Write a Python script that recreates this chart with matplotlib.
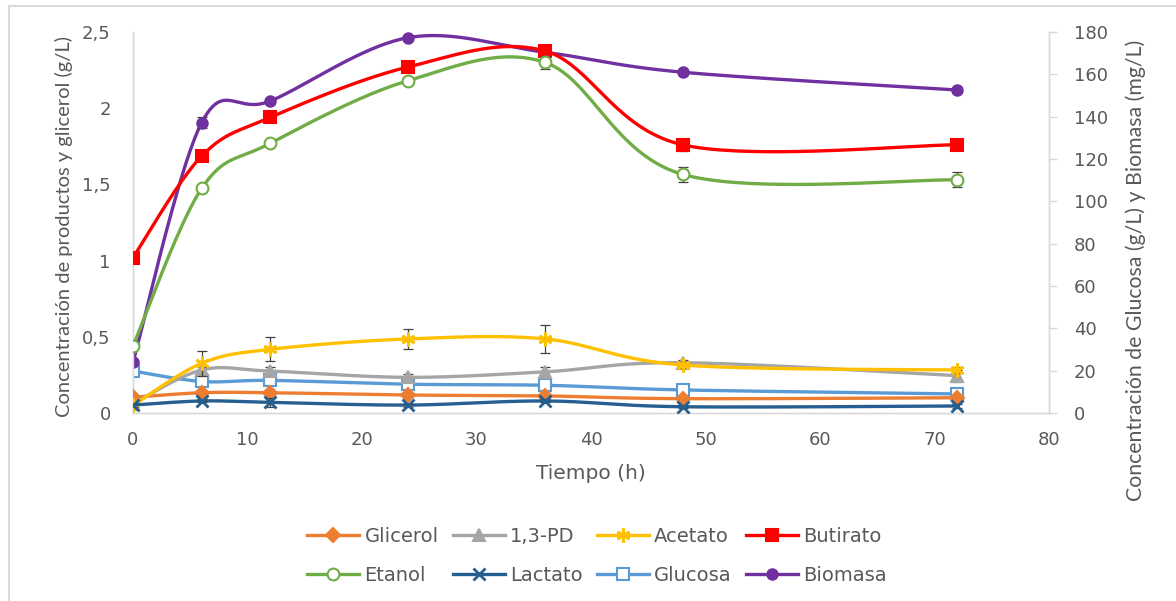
import numpy as np
import matplotlib
matplotlib.use("Agg")
import matplotlib.pyplot as plt
from matplotlib.lines import Line2D
from matplotlib.patches import Rectangle

plt.rcParams['font.family'] = ['DejaVu Sans']

# ---------------- data ----------------
tiempo = [0, 6, 12, 24, 36, 48, 72]

glicerol = [0.103, 0.133, 0.133, 0.118, 0.112, 0.094, 0.100]
glicerol_err = [0.01, 0.01, 0.01, 0.01, 0.01, 0.01, 0.01]

pd13 = [0.06, 0.282, 0.275, 0.234, 0.270, 0.330, 0.245]
pd13_err = [0.01, 0.02, 0.03, 0.02, 0.03, 0.02, 0.04]

acetato = [0.05, 0.326, 0.418, 0.486, 0.486, 0.315, 0.282]
acetato_err = [0.01, 0.08, 0.08, 0.065, 0.09, 0.02, 0.02]

butirato = [1.02, 1.686, 1.94, 2.27, 2.375, 1.76, 1.76]
butirato_err = [0.01, 0.02, 0.02, 0.02, 0.02, 0.04, 0.03]

etanol = [0.44, 1.474, 1.77, 2.18, 2.30, 1.566, 1.53]
etanol_err = [0.01, 0.02, 0.02, 0.02, 0.04, 0.05, 0.05]

lactato = [0.052, 0.079, 0.07, 0.052, 0.079, 0.041, 0.046]
lactato_err = [0.01, 0.01, 0.03, 0.01, 0.01, 0.01, 0.01]

# right axis (Glucosa g/L, Biomasa mg/L)
glucosa = [19.8, 14.9, 15.4, 13.6, 13.1, 10.9, 9.0]
glucosa_err = [0.8, 0.8, 0.8, 0.8, 0.8, 0.5, 0.5]

biomasa = [24.0, 137.2, 147.4, 177.3, 170.4, 161.0, 152.6]
biomasa_err = [1.0, 2.5, 1.5, 1.5, 1.5, 1.5, 1.5]

x_ticks = [0, 10, 20, 30, 40, 50, 60, 70, 80]
y_left_ticks = [0, 0.5, 1, 1.5, 2, 2.5]
y_left_labels = ['0', '0,5', '1', '1,5', '2', '2,5']
y_right_ticks = [0, 20, 40, 60, 80, 100, 120, 140, 160, 180]

TEXT = '#595959'
AXIS = '#D9D9D9'
ERR = '#404040'


def smooth(xs, ys, n=40):
    """Excel-like smoothed line (Catmull-Rom Bezier segments)."""
    P = np.column_stack([xs, ys]).astype(float)
    out = [P[0]]
    m = len(P)
    t = np.linspace(0, 1, n)[1:]
    for i in range(m - 1):
        p0 = P[i - 1] if i > 0 else P[i]
        p1 = P[i]
        p2 = P[i + 1]
        p3 = P[i + 2] if i + 2 < m else P[i + 1]
        c1 = p1 + (p2 - p0) / 6.0
        c2 = p2 - (p3 - p1) / 6.0
        tt = t[:, None]
        seg = ((1 - tt) ** 3) * p1 + 3 * ((1 - tt) ** 2) * tt * c1 + \
            3 * (1 - tt) * tt ** 2 * c2 + tt ** 3 * p2
        out.extend(seg)
    out = np.array(out)
    return out[:, 0], out[:, 1]


fig = plt.figure(figsize=(11.76, 6.01), dpi=100)
ax = fig.add_axes([133 / 1176, 1 - 413 / 601, (1049 - 133) / 1176, (413 - 32) / 601])
ax2 = ax.twinx()

series_left = [
    ('Glicerol', glicerol, glicerol_err, '#ED7D31', 'D', 7, True),
    ('1,3-PD', pd13, pd13_err, '#A5A5A5', '^', 8, True),
    ('Acetato', acetato, acetato_err, '#FFC000', (6, 2, 0), 10, True),
    ('Butirato', butirato, butirato_err, '#FF0000', 's', 8.5, True),
    ('Etanol', etanol, etanol_err, '#70AD47', 'o', 8.5, False),
    ('Lactato', lactato, lactato_err, '#255E91', 'x', 8, True),
]
series_right = [
    ('Glucosa', glucosa, glucosa_err, '#5B9BD5', 's', 8.5, False),
    ('Biomasa', biomasa, biomasa_err, '#7030A0', 'o', 7.5, True),
]

handles = {}


def draw(a, name, ys, err, color, marker, ms, filled, z):
    sx, sy = smooth(tiempo, ys)
    a.plot(sx, sy, color=color, lw=2.4, zorder=z, solid_capstyle='round')
    a.errorbar(tiempo, ys, yerr=err, fmt='none', ecolor=ERR, elinewidth=0.9,
               capsize=3.5, capthick=0.9, zorder=z + 0.5)
    mfc = color if filled else 'white'
    mew = 2.0 if marker in ('x', (6, 2, 0)) else 1.5
    a.plot(tiempo, ys, linestyle='none', marker=marker, ms=ms, mfc=mfc,
           mec=color, mew=mew, zorder=z + 0.6)
    handles[name] = Line2D([], [], color=color, lw=2.4, marker=marker, ms=ms,
                           mfc=mfc, mec=color, mew=mew)


z = 3
for s in series_left:
    draw(ax, *s, z)
    z += 1
for s in series_right:
    draw(ax2, *s, z)
    z += 1

ax.set_zorder(ax2.get_zorder() + 1)
ax.patch.set_visible(False)

ax.set_xlim(0, 80)
ax.set_ylim(0, 2.5)
ax2.set_ylim(0, 180)
ax.set_xticks(x_ticks)
ax.set_yticks(y_left_ticks)
ax.set_yticklabels(y_left_labels)
ax2.set_yticks(y_right_ticks)

for a in (ax, ax2):
    for sp in a.spines.values():
        sp.set_color(AXIS)
        sp.set_linewidth(1.0)
    a.spines['top'].set_visible(False)

ax.tick_params(axis='x', length=0, pad=13, labelsize=13, labelcolor=TEXT)
ax.tick_params(axis='y', length=0, pad=16, labelsize=13, labelcolor=TEXT)
ax2.tick_params(axis='y', length=6, width=1, color=AXIS, pad=12, labelsize=13,
                labelcolor=TEXT, direction='out')

ax.set_xlabel('Tiempo (h)', fontsize=14.5, color=TEXT, labelpad=11)
ax.set_ylabel('Concentración de productos y glicerol (g/L)',
              family=['Lato', 'DejaVu Sans'], fontsize=14.5, color=TEXT)
ax2.set_ylabel('Concentración de Glucosa (g/L) y Biomasa (mg/L)',
               family=['Lato', 'DejaVu Sans'], fontsize=15.3, color=TEXT)
ax.yaxis.set_label_coords((73 - 133) / (1049 - 133), 0.49)
ax2.yaxis.set_label_coords((1125 - 133) / (1049 - 133), 0.375)

order = ['Glicerol', 'Etanol', '1,3-PD', 'Lactato', 'Acetato', 'Glucosa',
         'Butirato', 'Biomasa']
leg = fig.legend([handles[k] for k in order], order, ncol=4,
                 loc='center', bbox_to_anchor=(597 / 1176, 1 - 556 / 601),
                 frameon=False, fontsize=14, handlelength=2.7,
                 handletextpad=0.26, columnspacing=0.72, labelspacing=1.05,
                 labelcolor=TEXT)

# chart-area border (top and left visible)
fig.patches.append(Rectangle((9 / 1176, -0.1), 1.2, 1 - 6 / 601 + 0.1,
                             transform=fig.transFigure, fill=False,
                             edgecolor='#D9D9D9', lw=1.5))

fig.savefig('out.png', dpi=100)
